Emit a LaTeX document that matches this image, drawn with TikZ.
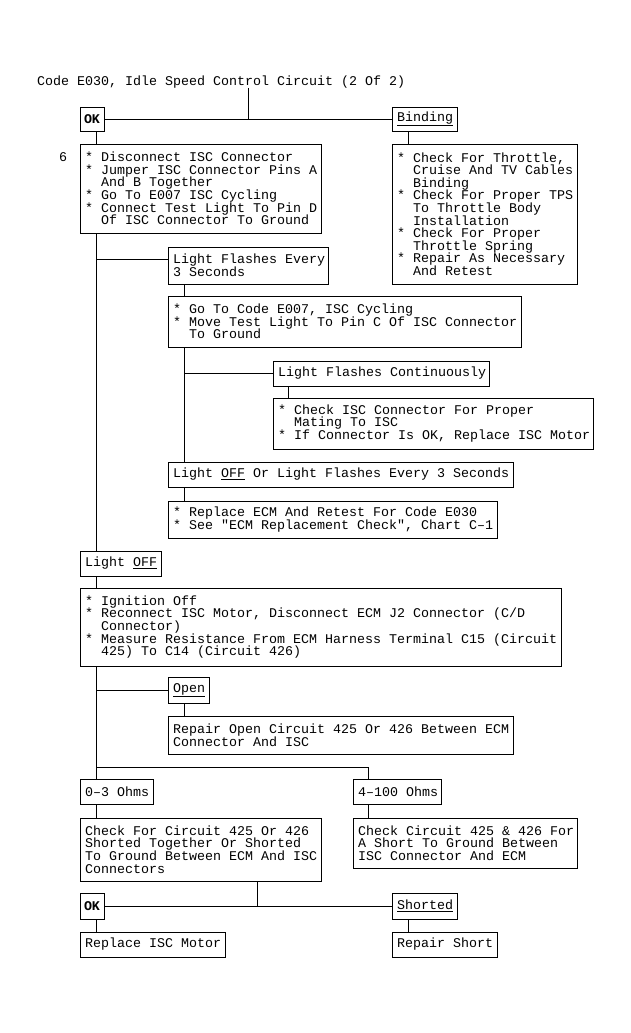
\documentclass[tikz,border=0pt]{standalone}
\usepackage{fontspec}
\setmonofont{Liberation Mono}
\newcommand\chartfont{\ttfamily\fontsize{13.33pt}{12.6pt}\selectfont\frenchspacing}
\newcommand\myind{\hspace*{16pt}}
\tikzset{
  frame/.style={draw, line width=1pt, inner sep=0pt, outer sep=0pt, anchor=north west},
  txt/.style={inner sep=0pt, anchor=west, align=left, font=\chartfont},
  conn/.style={line width=1pt}
}
\newcommand\mkbox[6]{%
  \node[frame, minimum width=#4pt, minimum height=#5pt] (#1) at (#2,#3) {};
  \node[txt] (#1-t) at ([xshift=5pt]#1.west) {#6};}
\newcommand\mkokbox[5]{%
  \node[frame, minimum width=#4pt, minimum height=#5pt] (#1) at (#2,#3) {};
  \node[txt, anchor=center] (#1-t) at (#1.center) {\textbf{OK}};}
\begin{document}
\begin{tikzpicture}[x=1pt, y=-1pt]
\fill[white] (0,0) rectangle (631,1033);
\useasboundingbox (0,0) rectangle (631,1033);

\node[txt, anchor=base west] (title) at (37,85) {Code E030, Idle Speed Control Circuit (2 Of 2)};
\node[txt, anchor=base west] (six) at (59,161) {6};

\mkokbox{ok1}{80}{107}{24}{24}
\mkbox{bind}{392}{107}{65}{24}{\underline{Binding}}
\mkbox{b1}{80}{144}{241}{89}{* Disconnect ISC Connector\\* Jumper ISC Connector Pins A\\\myind And B Together\\* Go To E007 ISC Cycling\\* Connect Test Light To Pin D\\\myind Of ISC Connector To Ground}
\mkbox{bb}{392}{144}{185}{140}{* Check For Throttle,\\\myind Cruise And TV Cables\\\myind Binding\\* Check For Proper TPS\\\myind To Throttle Body\\\myind Installation\\* Check For Proper\\\myind Throttle Spring\\* Repair As Necessary\\\myind And Retest}
\mkbox{lf3}{168}{247}{160}{37}{Light Flashes Every\\3 Seconds}
\mkbox{go}{168}{296}{353}{51}{* Go To Code E007, ISC Cycling\\* Move Test Light To Pin C Of ISC Connector\\\myind To Ground}
\mkbox{lfc}{273}{361}{216}{25}{Light Flashes Continuously}
\mkbox{chk}{273}{398}{320}{51}{* Check ISC Connector For Proper\\\myind Mating To ISC\\* If Connector Is OK, Replace ISC Motor}
\mkbox{loo}{168}{462}{345}{25}{Light \underline{OFF} Or Light Flashes Every 3 Seconds}
\mkbox{rep}{168}{501}{329}{37}{* Replace ECM And Retest For Code E030\\* See "ECM Replacement Check", Chart C–1}
\mkbox{loff}{80}{551}{81}{25}{Light \underline{OFF}}
\mkbox{ign}{80}{588}{481}{78}{* Ignition Off\\* Reconnect ISC Motor, Disconnect ECM J2 Connector (C/D\\\myind Connector)\\* Measure Resistance From ECM Harness Terminal C15 (Circuit\\\myind 425) To C14 (Circuit 426)}
\mkbox{open}{168}{677}{41}{26}{\underline{Open}}
\mkbox{ro}{168}{716}{345}{38}{Repair Open Circuit 425 Or 426 Between ECM\\Connector And ISC}
\mkbox{ohm0}{80}{779}{73}{25}{0–3 Ohms}
\mkbox{ohm4}{353}{779}{88}{25}{4–100 Ohms}
\mkbox{bl}{80}{818}{241}{63}{Check For Circuit 425 Or 426\\Shorted Together Or Shorted\\To Ground Between ECM And ISC\\Connectors}
\mkbox{br}{353}{818}{224}{50}{Check Circuit 425 \& 426 For\\A Short To Ground Between\\ISC Connector And ECM}
\mkokbox{ok2}{80}{893}{24}{26}
\mkbox{short}{392}{893}{65}{26}{\underline{Shorted}}
\mkbox{rim}{80}{932}{145}{25}{Replace ISC Motor}
\mkbox{rs}{392}{932}{105}{25}{Repair Short}

% connectors
\coordinate (tj) at (248,119);
\draw[conn] (title.south -| tj) -- (tj);
\draw[conn] (ok1.east) -- (bind.west);
\draw[conn] ([xshift=16pt]ok1.south west) -- ([xshift=16pt]b1.north west);
\draw[conn] ([xshift=16pt]bind.south west) -- ([xshift=16pt]bb.north west);
\draw[conn] ([xshift=16pt]b1.south west) -- ([xshift=16pt]loff.north west);
\coordinate (sp) at ([xshift=16pt]b1.south west);
\coordinate (lf3b) at ([yshift=-12pt]lf3.north west);
\draw[conn] (lf3b -| sp) -- (lf3b);
\draw[conn] ([xshift=16pt]lf3.south west) -- ([xshift=16pt]go.north west);
\draw[conn] ([xshift=16pt]go.south west) -- ([xshift=16pt]loo.north west);
\coordinate (sp2) at ([xshift=16pt]go.south west);
\draw[conn] (lfc.west -| sp2) -- (lfc.west);
\draw[conn] ([xshift=15pt]lfc.south west) -- ([xshift=15pt]chk.north west);
\draw[conn] ([xshift=16pt]loo.south west) -- ([xshift=16pt]rep.north west);
\draw[conn] ([xshift=16pt]loff.south west) -- ([xshift=16pt]ign.north west);
\draw[conn] ([xshift=16pt]ign.south west) -- ([xshift=16pt]ohm0.north west);
\coordinate (sp3) at ([xshift=16pt]ign.south west);
\draw[conn] (open.west -| sp3) -- (open.west);
\draw[conn] ([xshift=16pt]open.south west) -- ([xshift=16pt]ro.north west);
\draw[conn] ([xshift=16pt,yshift=12pt]ohm0.north west) -| ([xshift=15pt]ohm4.north west);
\draw[conn] ([xshift=16pt]ohm0.south west) -- ([xshift=16pt]bl.north west);
\draw[conn] ([xshift=15pt]ohm4.south west) -- ([xshift=15pt]br.north west);
\coordinate (bj) at (257,906);
\draw[conn] (bl.south -| bj) -- (bj);
\draw[conn] (ok2.east) -- (short.west);
\draw[conn] ([xshift=16pt]ok2.south west) -- ([xshift=16pt]rim.north west);
\draw[conn] ([xshift=16pt]short.south west) -- ([xshift=16pt]rs.north west);
\end{tikzpicture}
\end{document}
